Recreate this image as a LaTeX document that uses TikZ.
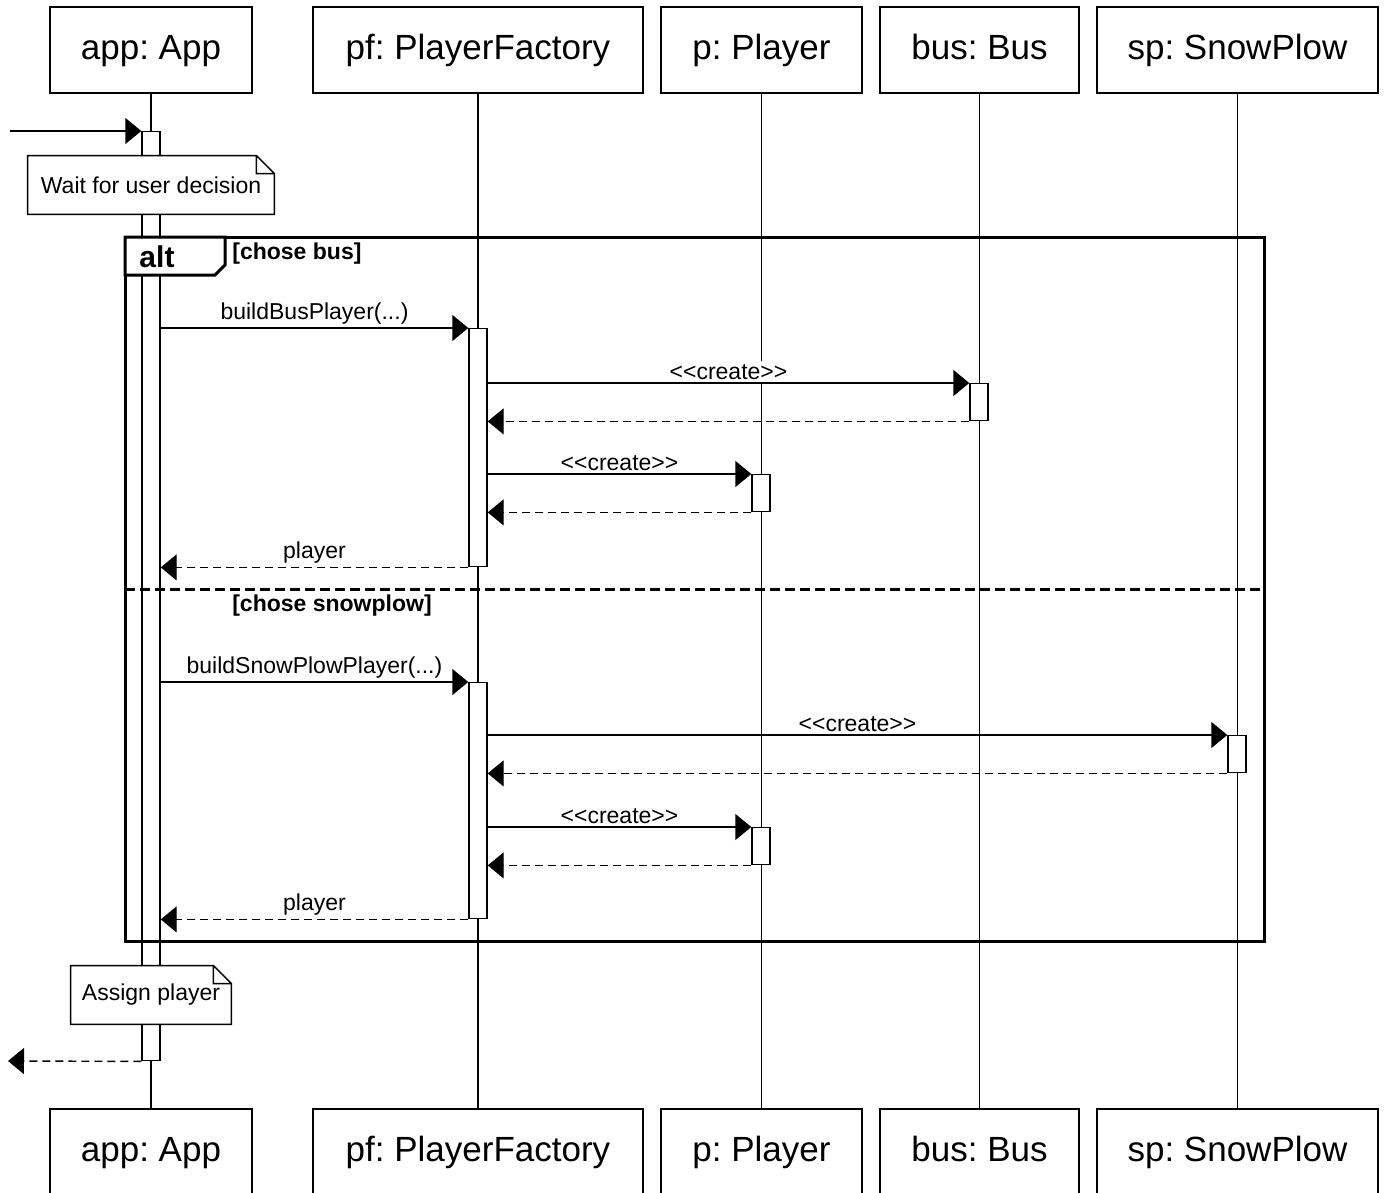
\documentclass[tikz,border=0pt]{standalone}
\usepackage{fontspec}
\setmainfont{Liberation Sans}
\usetikzlibrary{arrows.meta}
\frenchspacing

\newcommand{\stereo}[1]{<\kern0pt<#1>\kern0pt>}

\tikzset{
	obj/.style={draw, line width=0.7pt, minimum height=43pt, inner sep=0pt,
		text height=13pt, text depth=3.5pt,
		font=\fontsize{17.5}{20}\selectfont},
	life/.style={line width=0.65pt},
	act/.style={draw, fill=white, line width=0.7pt, minimum width=9pt,
		inner sep=0pt, anchor=north},
	msg/.style={line width=0.7pt, -{Triangle[length=8pt,width=13pt]}},
	ret/.style={msg, dash pattern=on 4pt off 2.5pt},
	lbl/.style={fill=white, inner sep=1.5pt, font=\fontsize{11.5}{13}\selectfont},
	umlnote/.style={fill=white, minimum height=29pt, inner sep=0pt,
		font=\fontsize{11.5}{13}\selectfont},
	guard/.style={inner sep=0pt, font=\bfseries\fontsize{11.5}{13}\selectfont},
	frame/.style={line width=1.5pt}
}

\begin{document}
\begin{tikzpicture}[x=0.5pt, y=-0.5pt]
	
	\fill[white] (0,0) rectangle (1388,1193);
	\useasboundingbox (0,0) rectangle (1388,1193);
	
	% objects, top and bottom
	\node[obj, minimum width=101pt] (app) at (151,50) {app: App};
	\node[obj, minimum width=165pt] (pf) at (478,50) {pf: PlayerFactory};
	\node[obj, minimum width=100.5pt] (p) at (761.5,50) {p: Player};
	\node[obj, minimum width=99.5pt] (bus) at (979.5,50) {bus: Bus};
	\node[obj, minimum width=140.5pt] (sp) at (1237.5,50) {sp: SnowPlow};
	
	\node[obj, minimum width=101pt] (app2) at (151,1152) {app: App};
	\node[obj, minimum width=165pt] (pf2) at (478,1152) {pf: PlayerFactory};
	\node[obj, minimum width=100.5pt] (p2) at (761.5,1152) {p: Player};
	\node[obj, minimum width=99.5pt] (bus2) at (979.5,1152) {bus: Bus};
	\node[obj, minimum width=140.5pt] (sp2) at (1237.5,1152) {sp: SnowPlow};
	
	% lifelines
	\foreach \o in {app,pf,p,bus,sp}
		\draw[life] (\o) -- (\o2);
	
	% app activation
	\node[act, minimum height=464.5pt] (a0) at (151,131) {};
	
	% alt frame
	\coordinate (altNW) at (125,237);
	\coordinate (altSE) at (1264,941);
	\coordinate (sepL) at (125,589);
	\coordinate (sepR) at (1264,589);
	\draw[frame] (altNW) rectangle (altSE);
	\draw[frame, fill=white] (altNW) -- ++(100,0) -- ++(0,28) -- ++(-10,10) -- ++(-90,0) -- cycle;
	\node[guard, font=\bfseries\fontsize{15}{17}\selectfont] (alt) at (157,257) {alt};
	\node[guard, anchor=west] (g1) at (232,254) {[chose bus]};
	\draw[frame, dash pattern=on 5pt off 2.5pt] (sepL) -- (sepR);
	\node[guard] (g2) at (332,606) {[chose snowplow]};
	
	% activations
	\node[act, minimum height=119pt] (b1) at (478,328) {};
	\node[act, minimum height=18.5pt] (c1) at (979,383) {};
	\node[act, minimum height=18.5pt] (d1) at (761,474) {};
	\node[act, minimum height=118pt] (b2) at (478,682) {};
	\node[act, minimum height=18.5pt] (e1) at (1237,735) {};
	\node[act, minimum height=18.5pt] (d2) at (761,827) {};
	
	% messages
	\coordinate (in) at (10,131);
	\coordinate (out) at (8,1061);
	\draw[msg] (in) -- (a0.north west);
	
	\draw[msg] (a0.east |- b1.north) -- (b1.north west) node[lbl, midway, above] {buildBusPlayer(...)};
	\draw[msg] (b1.east |- c1.north) -- (c1.north west) node[lbl, midway, above] {\stereo{create}};
	\draw[ret] (c1.south west) -- (b1.east |- c1.south);
	\draw[msg] (b1.east |- d1.north) -- (d1.north west) node[lbl, midway, above] {\stereo{create}};
	\draw[ret] (d1.south west) -- (b1.east |- d1.south);
	\draw[ret] (b1.south west) -- (a0.east |- b1.south) node[lbl, midway, above] {player};
	
	\draw[msg] (a0.east |- b2.north) -- (b2.north west) node[lbl, midway, above] {buildSnowPlowPlayer(...)};
	\draw[msg] (b2.east |- e1.north) -- (e1.north west) node[lbl, midway, above] {\stereo{create}};
	\draw[ret] (e1.south west) -- (b2.east |- e1.south);
	\draw[msg] (b2.east |- d2.north) -- (d2.north west) node[lbl, midway, above] {\stereo{create}};
	\draw[ret] (d2.south west) -- (b2.east |- d2.south);
	\draw[ret] (b2.south west) -- (a0.east |- b2.south) node[lbl, midway, above] {player};
	
	\draw[ret] (a0.south west) -- (out);
	
	% notes
	\node[umlnote, minimum width=123pt] (n1) at (151,185) {Wait for user decision};
	\node[umlnote, minimum width=80pt] (n2) at (151,995) {Assign player};
	\foreach \n in {n1,n2}
		\draw[line width=0.7pt] (\n.north west) -- ([xshift=-9pt]\n.north east)
		-- ([yshift=-9pt]\n.north east) -- (\n.south east) -- (\n.south west) -- cycle
		([xshift=-9pt]\n.north east) |- ([yshift=-9pt]\n.north east);
	
\end{tikzpicture}
\end{document}
